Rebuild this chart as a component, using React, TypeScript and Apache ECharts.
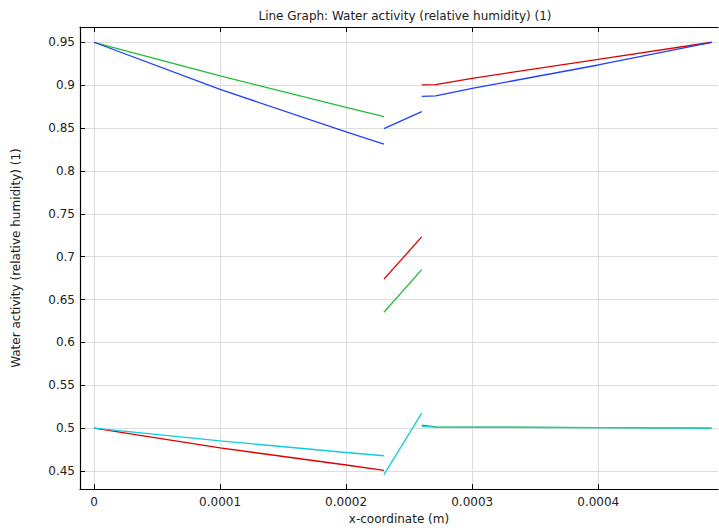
import React, { useEffect, useRef } from "react";
import * as echarts from "echarts";

const xTicks = [0, 0.0001, 0.0002, 0.0003, 0.0004];
const yTicks = [0.45, 0.5, 0.55, 0.6, 0.65, 0.7, 0.75, 0.8, 0.85, 0.9, 0.95];

const xLeft = [0, 0.0001, 0.0002, 0.00023];
const xMid = [0.00023, 0.00026];
const xRight = [0.00026, 0.000271, 0.0003, 0.0004, 0.00049];

const redLeft = [0.5, 0.477, 0.457, 0.4508];
const redMid = [0.6737, 0.723];
const redRight = [0.9003, 0.9006, 0.908, 0.93, 0.95];

const greenLeft = [0.95, 0.9107, 0.8742, 0.8634];
const greenMid = [0.6352, 0.6849];
const greenRight = [0.5035, 0.5015, 0.5012, 0.5006, 0.5];

const blueLeft = [0.95, 0.895, 0.8454, 0.8311];
const blueMid = [0.8492, 0.8692];
const blueRight = [0.887, 0.8875, 0.8962, 0.9235, 0.95];

const cyanLeft = [0.5, 0.4851, 0.4716, 0.4678];
const cyanMid = [0.4458, 0.5174];
const cyanRight = [0.502, 0.5012, 0.501, 0.5006, 0.5];

const colors = { red: "#dd0000", green: "#22bb33", blue: "#1f3fff", cyan: "#11ccdd" };

const segs: [string, number[], number[]][] = [
  ["red", xLeft, redLeft], ["red", xMid, redMid], ["red", xRight, redRight],
  ["green", xLeft, greenLeft], ["green", xMid, greenMid], ["green", xRight, greenRight],
  ["blue", xLeft, blueLeft], ["blue", xMid, blueMid], ["blue", xRight, blueRight],
  ["cyan", xLeft, cyanLeft], ["cyan", xMid, cyanMid], ["cyan", xRight, cyanRight],
];

const FONT = "DejaVu Sans";

export default function App() {
  const ref = useRef<HTMLDivElement>(null);
  useEffect(() => {
    const chart = echarts.init(ref.current!, null, { renderer: "svg" });
    const xMin = -0.0000111;
    const xMax = 0.000495;
    chart.setOption({
      animation: false,
      backgroundColor: "#ffffff",
      textStyle: { fontFamily: FONT },
      title: {
        text: "Line Graph: Water activity (relative humidity) (1)",
        left: 400,
        top: 5,
        textAlign: "center",
        textStyle: { fontFamily: FONT, fontSize: 12, fontWeight: "normal", color: "#222" },
      },
      grid: { left: 80, right: 1, top: 27, bottom: 36, containLabel: false },
      xAxis: [
        {
          type: "value",
          min: xMin,
          max: xMax,
          name: "x-coordinate (m)",
          nameLocation: "middle",
          nameGap: 20,
          nameTextStyle: { fontFamily: FONT, fontSize: 12, color: "#222" },
          axisLine: { show: true, onZero: false, lineStyle: { color: "#000", width: 1.2 } },
          axisTick: { show: true, inside: true, length: 5, customValues: xTicks, lineStyle: { color: "#000" } },
          axisLabel: {
            customValues: xTicks,
            margin: 7,
            fontFamily: FONT,
            fontSize: 12,
            color: "#222",
            formatter: (v: number) => String(Number(v.toPrecision(6))),
          },
          splitLine: { show: true, lineStyle: { color: "#dddddd", width: 1 } },
        },
        {
          type: "value",
          position: "top",
          min: xMin,
          max: xMax,
          axisLine: { show: true, onZero: false, lineStyle: { color: "#000", width: 1.2 } },
          axisTick: { show: true, inside: true, length: 5, customValues: xTicks, lineStyle: { color: "#000" } },
          axisLabel: { show: false },
          splitLine: { show: false },
        },
      ],
      yAxis: {
        type: "value",
        min: 0.4289,
        max: 0.9678,
        name: "Water activity (relative humidity) (1)",
        nameLocation: "middle",
        nameGap: 58,
        nameTextStyle: { fontFamily: FONT, fontSize: 12, color: "#222" },
        axisLine: { show: true, onZero: false, lineStyle: { color: "#000", width: 1.2 } },
        axisTick: { show: true, inside: true, length: 5, customValues: yTicks, lineStyle: { color: "#000" } },
        axisLabel: {
          customValues: yTicks,
          margin: 5,
          fontFamily: FONT,
          fontSize: 12,
          color: "#222",
          formatter: (v: number) => String(Number(v.toPrecision(6))),
        },
        splitLine: { show: true, lineStyle: { color: "#dddddd", width: 1 } },
      },
      series: segs.map(([c, xs, ys]) => ({
        type: "line",
        xAxisIndex: 0,
        data: xs.map((x, i) => [x, ys[i]]),
        showSymbol: false,
        symbol: "none",
        lineStyle: { color: (colors as any)[c], width: 1.3 },
        itemStyle: { color: (colors as any)[c] },
        silent: true,
      })),
    });
    return () => chart.dispose();
  }, []);
  return (
    <div
      ref={ref}
      style={{ position: "fixed", left: 0, top: 0, width: 719, height: 530 }}
    />
  );
}
